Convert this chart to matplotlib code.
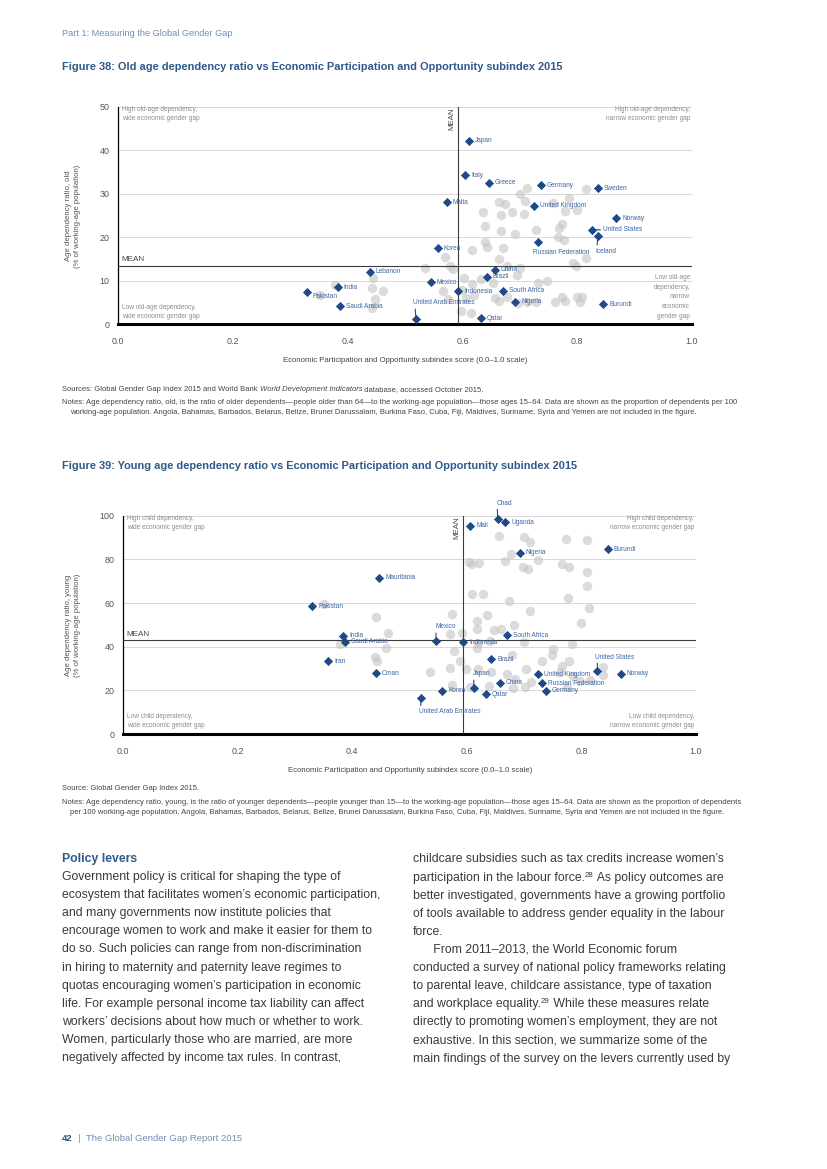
import matplotlib
matplotlib.use('Agg')
import matplotlib.pyplot as plt
from matplotlib import font_manager

# page size in pixels (dpi 100)
W, H = 827, 1169

installed = {f.name for f in font_manager.fontManager.ttflist}
if 'Liberation Sans Narrow' in installed:
    NARROW, NS = 'Liberation Sans Narrow', 1.0
else:
    NARROW, NS = 'Liberation Sans', 0.86   # no narrow face: shrink instead
BODY = 'Liberation Sans'

BLUE_T = '#2e5a8a'
DIAMOND = '#1f4a87'
LABEL = '#3b66a3'
GREY_TXT = '#8c8c8c'

# ---- Figure 38 data: old age dependency ----
old_names = ['Japan', 'Italy', 'Greece', 'Germany', 'Sweden', 'Malta', 'United Kingdom', 'Norway',
             'United States', 'Iceland', 'Russian Federation', 'Korea', 'China', 'Brazil', 'Mexico',
             'Indonesia', 'South Africa', 'Nigeria', 'Burundi', 'Qatar', 'United Arab Emirates',
             'Lebanon', 'India', 'Pakistan', 'Saudi Arabia']
old_x = [0.611, 0.605, 0.646, 0.737, 0.836, 0.573, 0.725, 0.868, 0.826, 0.836, 0.731, 0.557, 0.657,
         0.642, 0.545, 0.593, 0.670, 0.692, 0.845, 0.632, 0.519, 0.439, 0.383, 0.330, 0.387]
old_y = [42.2, 34.3, 32.5, 32.0, 31.3, 28.1, 27.2, 24.4, 21.7, 20.3, 18.8, 17.4, 12.5,
         10.9, 9.6, 7.5, 7.7, 5.1, 4.6, 1.3, 1.2, 12.0, 8.5, 7.4, 4.1]
old_other_x = [0.713, 0.700, 0.709, 0.815, 0.786, 0.664, 0.675, 0.686, 0.636, 0.668, 0.708, 0.758,
               0.779, 0.799, 0.774, 0.768, 0.640, 0.667, 0.691, 0.729, 0.766, 0.777, 0.639, 0.643,
               0.671, 0.616, 0.570, 0.664, 0.678, 0.578, 0.584, 0.534, 0.700, 0.793, 0.798, 0.815,
               0.603, 0.633, 0.617, 0.653, 0.731, 0.748, 0.695, 0.566, 0.600, 0.621, 0.607, 0.657,
               0.663, 0.677, 0.697, 0.712, 0.729, 0.761, 0.773, 0.779, 0.799, 0.809, 0.805, 0.598,
               0.615, 0.575, 0.445, 0.442, 0.462, 0.448, 0.442, 0.378, 0.352]
old_other_y = [31.3, 29.9, 28.3, 31.2, 29.1, 28.1, 27.7, 25.9, 25.9, 25.1, 25.3, 27.8,
               26.0, 26.3, 23.1, 22.2, 22.5, 21.4, 20.7, 21.7, 20.1, 19.4, 19.0, 17.8,
               17.6, 17.0, 15.4, 14.9, 13.4, 13.4, 12.7, 12.8, 12.9, 14.0, 13.4, 15.1,
               10.5, 10.4, 9.2, 9.5, 9.5, 10.0, 11.3, 7.6, 7.9, 6.7, 5.9, 6.0,
               5.4, 6.3, 4.8, 5.1, 5.1, 5.1, 6.3, 5.3, 6.3, 6.3, 5.1, 3.0,
               2.5, 5.8, 10.7, 8.4, 7.6, 5.7, 3.6, 9.1, 6.7]
old_mean_x, old_mean_y = 0.593, 13.4

# ---- Figure 39 data: young age dependency ----
young_names = ['Chad', 'Uganda', 'Mali', 'Nigeria', 'Burundi', 'Mauritania', 'Pakistan', 'India',
               'Saudi Arabia', 'Iran', 'Oman', 'Mexico', 'Indonesia', 'South Africa', 'Brazil',
               'United States', 'Norway', 'United Kingdom', 'Russian Federation', 'Germany', 'China',
               'Japan', 'Korea', 'Qatar', 'United Arab Emirates']
young_x = [0.654, 0.667, 0.606, 0.692, 0.846, 0.447, 0.330, 0.384, 0.388, 0.358, 0.442, 0.546, 0.594,
           0.671, 0.643, 0.828, 0.869, 0.725, 0.732, 0.738, 0.658, 0.612, 0.557, 0.633, 0.520]
young_y = [98.5, 97.0, 95.4, 83.1, 84.7, 71.5, 58.6, 44.9, 42.3, 33.3, 27.8, 42.7, 42.0,
           45.3, 34.2, 28.9, 27.5, 27.3, 23.2, 19.8, 23.5, 21.2, 19.8, 18.3, 16.5]
young_other_x = [0.657, 0.699, 0.710, 0.773, 0.810, 0.678, 0.667, 0.698, 0.707, 0.724, 0.766, 0.779,
                 0.809, 0.604, 0.609, 0.622, 0.809, 0.609, 0.628, 0.673, 0.776, 0.813, 0.710, 0.575,
                 0.635, 0.618, 0.618, 0.648, 0.682, 0.660, 0.800, 0.592, 0.571, 0.641, 0.619, 0.699,
                 0.784, 0.751, 0.748, 0.578, 0.617, 0.679, 0.732, 0.779, 0.767, 0.588, 0.571, 0.599,
                 0.535, 0.619, 0.643, 0.670, 0.703, 0.684, 0.712, 0.702, 0.575, 0.606, 0.638, 0.681,
                 0.763, 0.786, 0.798, 0.815, 0.838, 0.838, 0.774, 0.351, 0.442, 0.463, 0.459, 0.440,
                 0.444, 0.378]
young_other_y = [90.6, 90.2, 88.1, 89.1, 88.7, 82.5, 79.1, 76.5, 75.6, 79.5, 77.8, 76.6,
                 74.2, 78.9, 77.7, 78.5, 67.8, 64.1, 64.1, 61.1, 62.1, 57.6, 56.5, 55.1,
                 54.5, 51.9, 47.9, 47.8, 49.8, 48.1, 50.9, 46.1, 46.0, 42.6, 41.5, 42.2,
                 41.4, 38.9, 36.2, 37.9, 39.3, 36.4, 33.3, 33.6, 31.3, 33.4, 30.1, 29.8,
                 28.2, 30.0, 28.2, 27.7, 30.0, 25.2, 23.7, 21.7, 22.3, 21.7, 22.2, 20.9,
                 28.6, 26.4, 24.1, 24.9, 30.8, 27.1, 21.7, 59.7, 53.5, 46.4, 39.3, 35.4,
                 33.6, 41.2]
young_mean_x, young_mean_y = 0.594, 42.9

x_ticks = [0.0, 0.2, 0.4, 0.6, 0.8, 1.0]
x_tick_labels = ['0.0', '0.2', '0.4', '0.6', '0.8', '1.0']

# label placement exceptions: (dx pt, dy pt, ha, va, leader relpos)
old_place = {
    'Pakistan': (3.5, -3.5, 'left', 'center', None),
    'Russian Federation': (-3, -7.5, 'left', 'center', None),
    'Iceland': (-1.5, -11, 'left', 'center', (0.05, 0.9)),
    'United States': (8, 0, 'left', 'center', (0, 0.5)),
    'United Arab Emirates': (-2, 11.5, 'left', 'center', (0.03, 0.1)),
}
young_place = {
    'Chad': (-1, 11.5, 'left', 'center', (0.05, 0.1)),
    'Mexico': (-0.5, 10, 'left', 'center', (0.05, 0.1)),
    'Japan': (-0.5, 10, 'left', 'center', (0.05, 0.1)),
    'United States': (-1.5, 10, 'left', 'center', (0.05, 0.1)),
    'United Arab Emirates': (-1.5, -10, 'left', 'center', (0.03, 0.9)),
}

fig = plt.figure(figsize=(W / 100, H / 100), dpi=100)


def fx(x):
    return x / W


def fy(y):
    return 1 - y / H


def draw_panel(top, bottom, left, right, names, xs, ys, ox, oy, mx, my, ymax, ystep, place):
    ax = fig.add_axes([fx(left), fy(bottom), (right - left) / W, (bottom - top) / H])
    ax.scatter(ox, oy, s=46, color='#c4c4c4', alpha=0.6, lw=0, zorder=2, clip_on=False)
    ax.axhline(my, color='#3c3c3c', lw=0.8, zorder=3)
    ax.axvline(mx, color='#3c3c3c', lw=0.8, zorder=3)
    for n, x, y in zip(names, xs, ys):
        dx, dy, ha, va, rel = place.get(n, (4.3, 0, 'left', 'center', None))
        kw = {}
        if rel is not None:
            kw['arrowprops'] = dict(arrowstyle='-', color=DIAMOND, lw=0.8,
                                    shrinkA=0, shrinkB=0, relpos=rel)
        ax.annotate(n, (x, y), xytext=(dx, dy), textcoords='offset points', ha=ha, va=va,
                    fontsize=5.5 * NS, color=LABEL, family=NARROW, zorder=3.5,
                    annotation_clip=False, **kw)
    ax.scatter(xs, ys, s=22, marker='D', color=DIAMOND, lw=0, zorder=4, clip_on=False)
    ax.set_xlim(0, 1)
    ax.set_ylim(0, ymax)
    ax.set_xticks(x_ticks)
    ax.set_xticklabels(x_tick_labels)
    ax.set_yticks(list(range(0, ymax + 1, ystep)))
    ax.yaxis.grid(True, color='#d2d2d2', lw=0.6)
    ax.set_axisbelow(True)
    for s in ['top', 'right']:
        ax.spines[s].set_visible(False)
    ax.spines['left'].set_linewidth(0.9)
    ax.spines['bottom'].set_linewidth(2.2)
    ax.tick_params(length=0, labelsize=7.4 * NS, labelcolor='#555555')
    ax.tick_params(axis='x', pad=9)
    ax.tick_params(axis='y', pad=6)
    for lab in ax.get_xticklabels() + ax.get_yticklabels():
        lab.set_family(NARROW)
    return ax


def t(x, y, s, **kw):
    base = dict(ha='left', va='center', family=NARROW, color='#444444', fontsize=6)
    base.update(kw)
    return fig.text(fx(x), fy(y), s, **base)


def inline(x, y, pieces, **common):
    r = fig.canvas.get_renderer()
    for s, kw in pieces:
        kw = dict(kw)
        rise = kw.pop('rise', 0)
        base = dict(ha='left', va='baseline')
        base.update(common)
        base.update(kw)
        tx = fig.text(fx(x), fy(y - rise), s, **base)
        x += tx.get_window_extent(r).width


NOTE = 6.36 * NS
QUAD = 5.5 * NS

# ---- header ----
t(62, 33, 'Part 1: Measuring the Global Gender Gap', family=BODY, color='#6f8fb3', fontsize=6.6)
t(62, 67, 'Figure 38: Old age dependency ratio vs Economic Participation and Opportunity subindex 2015',
  family=BODY, color=BLUE_T, fontsize=7.95, fontweight='bold')

# ---- Figure 38 ----
draw_panel(107, 324, 118, 692, old_names, old_x, old_y, old_other_x, old_other_y,
           old_mean_x, old_mean_y, 50, 10, old_place)
q = dict(color=GREY_TXT, fontsize=QUAD, linespacing=1.55)
t(122, 114, 'High old-age dependency,\nwide economic gender gap', **q)
t(690, 114, 'High old-age dependency,\nnarrow economic gender gap', ha='right', **q)
t(122, 312, 'Low old-age dependency,\nwide economic gender gap', **q)
t(690, 297, 'Low old-age\ndependency,\nnarrow\neconomic\ngender gap', ha='right', **q)
t(121, 260, 'MEAN', color='#444444', fontsize=6.8 * NS)
t(452, 119, 'MEAN', color='#444444', fontsize=6.6 * NS, rotation=90, ha='center')
t(73, 216, 'Age dependency ratio, old\n(% of working-age population)', rotation=90, ha='center',
  color='#555555', fontsize=6.5 * NS, linespacing=1.5)
t(405, 361, 'Economic Participation and Opportunity subindex score (0.0\u20131.0 scale)',
  ha='center', color='#444444', fontsize=6.5 * NS)
inline(62, 391, [('Sources: Global Gender Gap Index 2015 and World Bank ', {}),
                 ('World Development Indicators', {'style': 'italic'}),
                 (' database, accessed October 2015.', {})],
       family=NARROW, color='#444444', fontsize=NOTE)
t(62, 403, 'Notes: Age dependency ratio, old, is the ratio of older dependents\u2014people older than 64\u2014'
           'to the working-age population\u2014those ages 15\u201364. Data are shown as the proportion of '
           'dependents per 100', fontsize=NOTE)
t(70, 413, 'working-age population. Angola, Bahamas, Barbados, Belarus, Belize, Brunei Darussalam, '
           'Burkina Faso, Cuba, Fiji, Maldives, Suriname, Syria and Yemen are not included in the figure.',
  fontsize=NOTE)

# ---- Figure 39 ----
t(62, 466, 'Figure 39: Young age dependency ratio vs Economic Participation and Opportunity subindex 2015',
  family=BODY, color=BLUE_T, fontsize=7.95, fontweight='bold')
draw_panel(515.7, 734, 123, 696, young_names, young_x, young_y, young_other_x, young_other_y,
           young_mean_x, young_mean_y, 100, 20, young_place)
t(127, 523, 'High child dependency,\nwide economic gender gap', **q)
t(694, 523, 'High child dependency,\nnarrow economic gender gap', ha='right', **q)
t(127, 721, 'Low child dependency,\nwide economic gender gap', **q)
t(694, 721, 'Low child dependency,\nnarrow economic gender gap', ha='right', **q)
t(126, 634, 'MEAN', color='#444444', fontsize=6.8 * NS)
t(457, 528, 'MEAN', color='#444444', fontsize=6.6 * NS, rotation=90, ha='center')
t(73, 625, 'Age dependency ratio, young\n(% of working-age population)', rotation=90, ha='center',
  color='#555555', fontsize=6.5 * NS, linespacing=1.5)
t(410, 771, 'Economic Participation and Opportunity subindex score (0.0\u20131.0 scale)',
  ha='center', color='#444444', fontsize=6.5 * NS)
t(62, 789, 'Source: Global Gender Gap Index 2015.', fontsize=NOTE)
t(62, 802, 'Notes: Age dependency ratio, young, is the ratio of younger dependents\u2014people younger than 15\u2014'
           'to the working-age population\u2014those ages 15\u201364. Data are shown as the proportion of dependents',
  fontsize=NOTE)
t(70, 813, 'per 100 working-age population. Angola, Bahamas, Barbados, Belarus, Belize, Brunei Darussalam, '
           'Burkina Faso, Cuba, Fiji, Maldives, Suriname, Syria and Yemen are not included in the figure.',
  fontsize=NOTE)

# ---- body text ----
left_lines = [
    'Government policy is critical for shaping the type of',
    'ecosystem that facilitates women\u2019s economic participation,',
    'and many governments now institute policies that',
    'encourage women to work and make it easier for them to',
    'do so. Such policies can range from non-discrimination',
    'in hiring to maternity and paternity leave regimes to',
    'quotas encouraging women\u2019s participation in economic',
    'life. For example personal income tax liability can affect',
    'workers\u2019 decisions about how much or whether to work.',
    'Women, particularly those who are married, are more',
    'negatively affected by income tax rules. In contrast,',
]
body = dict(family=BODY, color='#3a3a3a', fontsize=8.85)
t(62, 859, 'Policy levers', family=BODY, color=BLUE_T, fontsize=8.85, fontweight='bold')
for i, s in enumerate(left_lines):
    t(62, 877 + 18.1 * i, s, **body)

sup = dict(fontsize=5.6, rise=4)
right_lines = [
    [('childcare subsidies such as tax credits increase women\u2019s', {})],
    [('participation in the labour force.', {}), ('28', sup), (' As policy outcomes are', {})],
    [('better investigated, governments have a growing portfolio', {})],
    [('of tools available to address gender equality in the labour', {})],
    [('force.', {})],
    [('      From 2011\u20132013, the World Economic forum', {})],
    [('conducted a survey of national policy frameworks relating', {})],
    [('to parental leave, childcare assistance, type of taxation', {})],
    [('and workplace equality.', {}), ('29', sup), (' While these measures relate', {})],
    [('directly to promoting women\u2019s employment, they are not', {})],
    [('exhaustive. In this section, we summarize some of the', {})],
    [('main findings of the survey on the levers currently used by', {})],
]
for i, pieces in enumerate(right_lines):
    inline(413, 862.5 + 18.1 * i, pieces, **body)

# ---- footer ----
inline(62, 1141, [('42', {'fontweight': 'bold', 'color': '#2b4f7e'}),
                  ('  |  The Global Gender Gap Report 2015', {'color': '#6f8fb3'})],
       family=BODY, fontsize=6.8)

fig.savefig('out.png', dpi=100)
